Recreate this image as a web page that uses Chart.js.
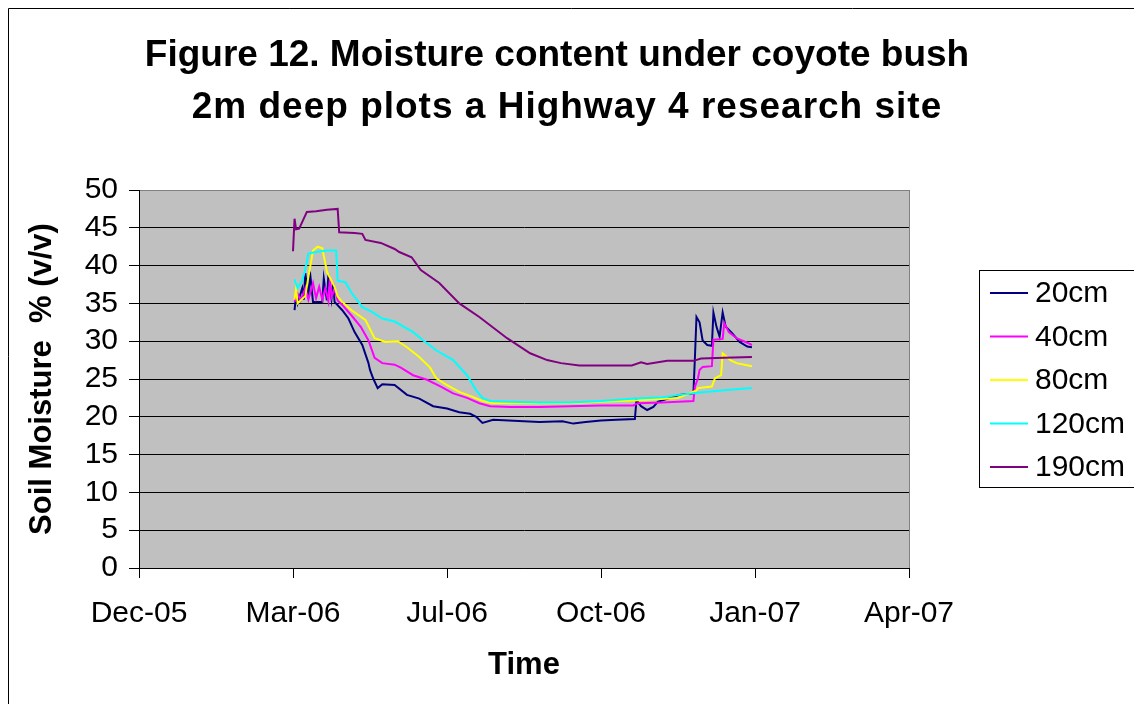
<!DOCTYPE html>
<html>
<head>
<meta charset="utf-8">
<title>Soil moisture under coyote bush</title>
<script src="https://cdn.jsdelivr.net/npm/chart.js@4/dist/chart.umd.min.js"></script>
<style>
    html, body { margin: 0; padding: 0; background: #fff; }
</style>
</head>
<body>
<canvas id="moistureChart" width="1134" height="704"></canvas>
<script>
// Dates are Excel serial day numbers (the original sheet used them on an XY axis)
const seriesLabels = ['20cm', '40cm', '80cm', '120cm', '190cm'];

const days20 = [38801, 38802, 38803, 38806, 38807, 38808, 38810, 38811, 38813, 38819, 38820, 38822, 38823, 38825, 38826, 38827, 38832, 38836, 38840, 38845, 38849, 38850, 38852, 38855, 38858, 38866, 38874, 38882, 38891, 38900, 38908, 38915, 38919, 38923, 38930, 38940, 38960, 38975, 38982, 38990, 39000, 39010, 39022, 39023, 39026, 39030, 39034, 39037, 39045, 39051, 39060, 39061, 39062, 39064, 39066, 39069, 39072, 39073, 39075, 39077, 39079, 39081, 39085, 39090, 39095, 39098];
const vals20 = [34.1, 36.1, 35.0, 37.0, 35.5, 39.0, 35.8, 39.2, 35.2, 35.2, 38.3, 35.4, 38.8, 35.6, 37.7, 35.2, 34.1, 33.0, 31.2, 29.5, 27.1, 26.2, 25.1, 23.8, 24.3, 24.2, 22.9, 22.4, 21.4, 21.1, 20.6, 20.4, 20.0, 19.2, 19.6, 19.5, 19.3, 19.4, 19.1, 19.3, 19.5, 19.6, 19.7, 22.2, 21.4, 20.9, 21.3, 22.0, 22.5, 22.9, 23.1, 27.9, 33.2, 32.5, 30.1, 29.5, 29.4, 33.8, 31.9, 30.6, 33.8, 31.9, 31.1, 29.9, 29.3, 29.2];

const days40 = [38801, 38803, 38805, 38808, 38810, 38813, 38815, 38817, 38819, 38821, 38823, 38824, 38825, 38827, 38829, 38832, 38838, 38844, 38849, 38853, 38858, 38866, 38870, 38878, 38887, 38896, 38904, 38913, 38921, 38928, 38941, 38960, 38980, 39000, 39021, 39024, 39040, 39060, 39061, 39063, 39064, 39066, 39072, 39073, 39079, 39080, 39083, 39088, 39095, 39098];
const vals40 = [35.2, 36.3, 35.4, 37.0, 35.5, 37.7, 35.7, 37.2, 35.5, 37.0, 35.3, 38.3, 35.8, 37.0, 35.4, 34.8, 33.4, 31.9, 30.1, 27.8, 27.1, 26.9, 26.5, 25.5, 24.9, 24.0, 23.1, 22.5, 21.8, 21.4, 21.3, 21.3, 21.4, 21.5, 21.5, 21.8, 21.9, 22.1, 24.0, 25.1, 26.2, 26.6, 26.7, 30.2, 30.3, 32.4, 31.2, 30.4, 29.8, 29.5];

const days80 = [38801, 38802, 38803, 38805, 38808, 38810, 38813, 38816, 38819, 38821, 38822, 38825, 38827, 38829, 38832, 38838, 38847, 38853, 38860, 38868, 38874, 38882, 38889, 38893, 38900, 38908, 38917, 38923, 38930, 38960, 38980, 39000, 39025, 39050, 39062, 39063, 39072, 39074, 39078, 39079, 39084, 39088, 39098];
const vals80 = [35.5, 37.0, 35.0, 35.4, 36.0, 38.5, 42.0, 42.5, 42.3, 40.3, 39.2, 38.0, 37.2, 35.9, 35.2, 34.1, 32.8, 30.4, 29.9, 30.0, 29.2, 27.9, 26.5, 25.1, 24.2, 23.3, 22.6, 22.1, 21.8, 21.8, 21.8, 22.0, 22.2, 22.5, 23.5, 23.8, 24.0, 25.1, 25.5, 28.4, 27.5, 27.1, 26.7];

const days120 = [38801, 38803, 38806, 38808, 38810, 38815, 38822, 38828, 38829, 38834, 38838, 38845, 38851, 38858, 38866, 38878, 38884, 38893, 38904, 38913, 38919, 38923, 38928, 38941, 38960, 38980, 39000, 39020, 39040, 39051, 39064, 39080, 39098];
const vals120 = [38.2, 37.0, 38.0, 39.5, 41.6, 41.8, 42.0, 42.0, 38.0, 37.8, 36.4, 34.5, 33.9, 33.0, 32.6, 31.2, 30.2, 28.8, 27.5, 25.5, 23.5, 22.5, 22.1, 22.0, 21.9, 21.9, 22.1, 22.4, 22.6, 22.9, 23.2, 23.5, 23.8];

const days190 = [38800, 38801, 38802, 38804, 38809, 38815, 38822, 38829, 38830, 38840, 38845, 38847, 38857, 38866, 38869, 38877, 38883, 38895, 38908, 38921, 38939, 38954, 38965, 38974, 38986, 39000, 39020, 39026, 39030, 39043, 39060, 39065, 39080, 39098];
const vals190 = [41.9, 46.2, 44.8, 44.9, 47.1, 47.2, 47.4, 47.5, 44.4, 44.3, 44.2, 43.4, 43.0, 42.2, 41.8, 41.1, 39.4, 37.7, 35.0, 33.2, 30.4, 28.4, 27.5, 27.1, 26.8, 26.8, 26.8, 27.2, 27.0, 27.4, 27.4, 27.7, 27.8, 27.9];

const yTicks = [0, 5, 10, 15, 20, 25, 30, 35, 40, 45, 50];
const xTickDays = [38700, 38800, 38900, 39000, 39100, 39200];
const monthNames = ['Jan', 'Feb', 'Mar', 'Apr', 'May', 'Jun', 'Jul', 'Aug', 'Sep', 'Oct', 'Nov', 'Dec'];

const seriesDays = [days20, days40, days80, days120, days190];
const seriesVals = [vals20, vals40, vals80, vals120, vals190];
const seriesColors = ['#000080', '#FF00FF', '#FFFF00', '#00FFFF', '#800080'];

function serialToLabel(serial) {
    const d = new Date(Date.UTC(1899, 11, 30) + serial * 86400000);
    return monthNames[d.getUTCMonth()] + '-' + String(d.getUTCFullYear() % 100).padStart(2, '0');
}

const FONT = "'Liberation Sans', Arial, sans-serif";

// plot background, outer frame, title and boxed legend
const excelLook = {
    id: 'excelLook',
    beforeDraw(chart) {
        const {ctx, chartArea: a} = chart;
        ctx.save();
        ctx.fillStyle = '#fff';
        ctx.fillRect(0, 0, chart.width, chart.height);
        ctx.strokeStyle = '#000';
        ctx.lineWidth = 1;
        ctx.beginPath();
        ctx.moveTo(8.5, chart.height);
        ctx.lineTo(8.5, 8.5);
        ctx.lineTo(chart.width, 8.5);
        ctx.stroke();
        ctx.fillStyle = '#C0C0C0';
        ctx.fillRect(a.left, a.top, a.right - a.left, a.bottom - a.top);
        ctx.strokeStyle = '#808080';
        ctx.strokeRect(a.left + 0.5, a.top + 0.5, a.right - a.left, a.bottom - a.top);
        ctx.restore();
    },
    afterDraw(chart) {
        const ctx = chart.ctx;
        ctx.save();
        ctx.fillStyle = '#000';
        ctx.textAlign = 'center';
        ctx.textBaseline = 'middle';
        ctx.font = 'bold 37px ' + FONT;
        ctx.fillText('Figure 12. Moisture content under coyote bush', 557, 56);
        // second line is set a little looser in the original
        ctx.letterSpacing = '1px';
        ctx.fillText('2m deep plots a Highway 4 research site', 567, 108);
        ctx.letterSpacing = '0px';

        // legend box
        ctx.fillStyle = '#fff';
        ctx.fillRect(979, 270, 160, 217);
        ctx.strokeStyle = '#000';
        ctx.lineWidth = 1;
        ctx.strokeRect(979.5, 270.5, 160, 217);
        ctx.font = '30px ' + FONT;
        ctx.textAlign = 'left';
        chart.data.datasets.forEach((ds, i) => {
            const y = 293 + i * 43.5;
            ctx.strokeStyle = ds.borderColor;
            ctx.lineWidth = 2;
            ctx.beginPath();
            ctx.moveTo(990, y);
            ctx.lineTo(1028, y);
            ctx.stroke();
            ctx.fillStyle = '#000';
            ctx.fillText(ds.label, 1035, y + 1);
        });
        ctx.restore();
    }
};

const datasets = seriesLabels.map((label, i) => ({
    label: label,
    data: seriesDays[i].map((d, j) => ({x: d, y: seriesVals[i][j]})),
    borderColor: seriesColors[i],
    backgroundColor: seriesColors[i],
    borderWidth: 2,
    pointRadius: 0,
    tension: 0,
    showLine: true,
    order: seriesLabels.length - i
}));

const ctx = document.getElementById('moistureChart').getContext('2d');
const moistureChart = new Chart(ctx, {
    type: 'scatter',
    data: { datasets: datasets },
    options: {
        responsive: false,
        animation: false,
        layout: { padding: { left: 10, right: 225, top: 190, bottom: 10 } },
        plugins: {
            legend: { display: false },
            title: { display: false },
            tooltip: { enabled: false }
        },
        scales: {
            x: {
                type: 'linear',
                min: xTickDays[0],
                max: xTickDays[xTickDays.length - 1],
                afterFit: (scale) => { scale.height = 126; },
                afterBuildTicks: (scale) => { scale.ticks = xTickDays.map(v => ({value: v})); },
                ticks: {
                    autoSkip: false,
                    maxRotation: 0,
                    padding: 18,
                    color: '#000',
                    font: { family: FONT, size: 30 },
                    callback: (v) => serialToLabel(v)
                },
                grid: { drawOnChartArea: false, drawTicks: true, tickLength: 10, color: '#000' },
                border: { color: '#000', width: 1 },
                title: {
                    display: true,
                    text: 'Time',
                    color: '#000',
                    font: { family: FONT, size: 31, weight: 'bold' },
                    padding: { top: 0, bottom: 10 }
                }
            },
            y: {
                min: 0,
                max: 50,
                afterFit: (scale) => { scale.width = 129; },
                afterBuildTicks: (scale) => { scale.ticks = yTicks.map(v => ({value: v})); },
                ticks: {
                    autoSkip: false,
                    padding: 11,
                    color: '#000',
                    font: { family: FONT, size: 30 }
                },
                grid: {
                    color: (c) => (c.tick && c.tick.value === 50 ? '#808080' : '#000'),
                    lineWidth: 1,
                    tickLength: 10,
                    tickColor: '#000'
                },
                border: { color: '#000', width: 1 },
                title: {
                    display: true,
                    text: 'Soil Moisture  % (v/v)',
                    color: '#000',
                    font: { family: FONT, size: 31, weight: 'bold' },
                    padding: { top: 14, bottom: 0 }
                }
            }
        }
    },
    plugins: [excelLook]
});
</script>
</body>
</html>
